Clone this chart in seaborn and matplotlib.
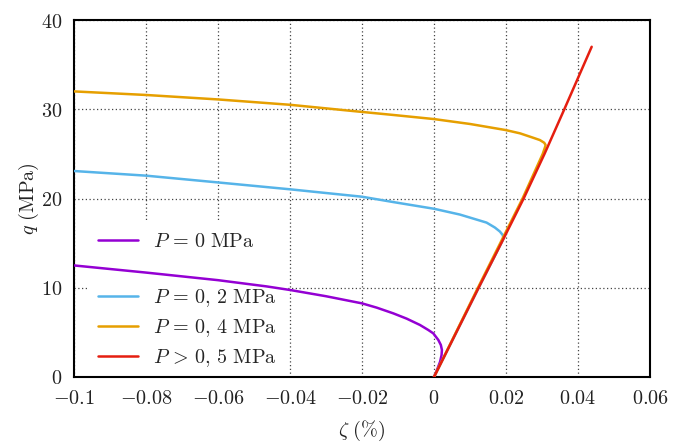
import numpy as np
import pandas as pd
import seaborn as sns
import matplotlib
matplotlib.use("Agg")
import matplotlib.pyplot as plt
from matplotlib.lines import Line2D

# ---- data ----
zeta_p0 = [-0.1, -0.08, -0.06, -0.0465, -0.04, -0.03, -0.02, -0.0159, -0.0113, -0.0076, -0.0039,
           -0.0016, -0.0002, 0.0012, 0.0019, 0.0022, 0.0021, 0.0017, 0.0009, 0.0]
q_p0 = [12.5, 11.7, 10.85, 10.15, 9.75, 9.05, 8.25, 7.77, 7.13, 6.54, 5.83,
        5.27, 4.89, 4.15, 3.59, 3.03, 2.46, 1.72, 0.87, 0.0]

zeta_p02 = [-0.1, -0.08, -0.06, -0.04, -0.02, -0.0113, 0.0, 0.0072, 0.0146, 0.0169, 0.0183,
            0.0191, 0.0193, 0.0187, 0.0124, 0.0062, 0.0]
q_p02 = [23.08, 22.56, 21.8, 21.03, 20.2, 19.6, 18.85, 18.2, 17.3, 16.75, 16.3,
         15.9, 15.5, 15.0, 10.0, 5.0, 0.0]

zeta_p04 = [-0.1, -0.08, -0.06, -0.04, -0.02, -0.0113, 0.0, 0.01, 0.0199, 0.0239, 0.0276,
            0.0294, 0.0306, 0.0310, 0.0308, 0.0302, 0.0246, 0.0122, 0.0]
q_p04 = [32.0, 31.6, 31.1, 30.5, 29.7, 29.36, 28.9, 28.35, 27.67, 27.3, 26.8,
         26.55, 26.25, 26.0, 25.7, 25.0, 20.0, 10.0, 0.0]

zeta_p05 = [0.0, 0.0062, 0.0124, 0.0187, 0.0249, 0.0307, 0.0362, 0.0438]
q_p05 = [0.0, 5.0, 10.0, 15.0, 20.0, 25.0, 30.0, 37.0]

labels = [r"$P\,=\,0\ \mathrm{MPa}$", r"$P\,=\,0,\,2\ \mathrm{MPa}$",
          r"$P\,=\,0,\,4\ \mathrm{MPa}$", r"$P\,>\,0,\,5\ \mathrm{MPa}$"]
colors = ["#9400D3", "#56B4E9", "#E69F00", "#E51E10"]

xticks = [-0.1, -0.08, -0.06, -0.04, -0.02, 0, 0.02, 0.04, 0.06]
xticklabels = [r"$-0.1$", r"$-0.08$", r"$-0.06$", r"$-0.04$", r"$-0.02$", r"$0$", r"$0.02$", r"$0.04$", r"$0.06$"]
yticks = [0, 10, 20, 30, 40]
yticklabels = [r"$0$", r"$10$", r"$20$", r"$30$", r"$40$"]

sns.set_theme(style="white")
plt.rcParams["mathtext.fontset"] = "cm"
plt.rcParams["font.family"] = ["DejaVu Serif"]

fig = plt.figure(figsize=(6.73, 4.46), dpi=100)
ax = fig.add_axes([74/673, 1-377/446, (650-74)/673, (377-20)/446])

series = [(zeta_p0, q_p0), (zeta_p02, q_p02), (zeta_p04, q_p04), (zeta_p05, q_p05)]
for (zx, qy), c in zip(series, colors):
    df = pd.DataFrame({"zeta": zx, "q": qy})
    sns.lineplot(data=df, x="zeta", y="q", sort=False, estimator=None, color=c,
                 linewidth=1.8, ax=ax, legend=False, zorder=3)
for ln in ax.get_lines():
    ln.set_solid_joinstyle("round")
    ln.set_solid_capstyle("round")

ax.set_xlim(-0.1, 0.06)
ax.set_ylim(0, 40)
ax.set_xticks(xticks)
ax.set_xticklabels(xticklabels)
ax.set_yticks(yticks)
ax.set_yticklabels(yticklabels)
ax.tick_params(axis="both", direction="in", length=7, width=1.3, labelsize=14.5,
               color="black", labelcolor="#222222", pad=8.5)
ax.set_xlabel(r"$\zeta\ (\%)$", fontsize=14.5, labelpad=8, color="#222222")
ax.set_ylabel(r"$q\ (\mathrm{MPa})$", fontsize=14.5, labelpad=0, color="#222222")

for s in ax.spines.values():
    s.set_visible(True)
    s.set_color("black")
    s.set_linewidth(1.5)

ax.set_axisbelow(True)
ax.grid(True, linestyle=(0, (1, 2)), color="#444444", linewidth=0.9)

handles = [Line2D([], [], color=colors[0], lw=1.8),
           Line2D([], [], color="none", lw=1.8),
           Line2D([], [], color=colors[1], lw=1.8),
           Line2D([], [], color=colors[2], lw=1.8),
           Line2D([], [], color=colors[3], lw=1.8)]
leg_labels = [labels[0], " ", labels[1], labels[2], labels[3]]
leg = ax.legend(handles, leg_labels, loc="upper left", bbox_to_anchor=(0.024, 0.435),
                fontsize=14.5, frameon=True, facecolor="white", edgecolor="none",
                framealpha=1.0, fancybox=False, handlelength=2.0, handletextpad=0.75,
                labelspacing=0.42, borderpad=0.5, borderaxespad=0.0)
leg.set_zorder(2)

fig.savefig("out.png", dpi=100)
